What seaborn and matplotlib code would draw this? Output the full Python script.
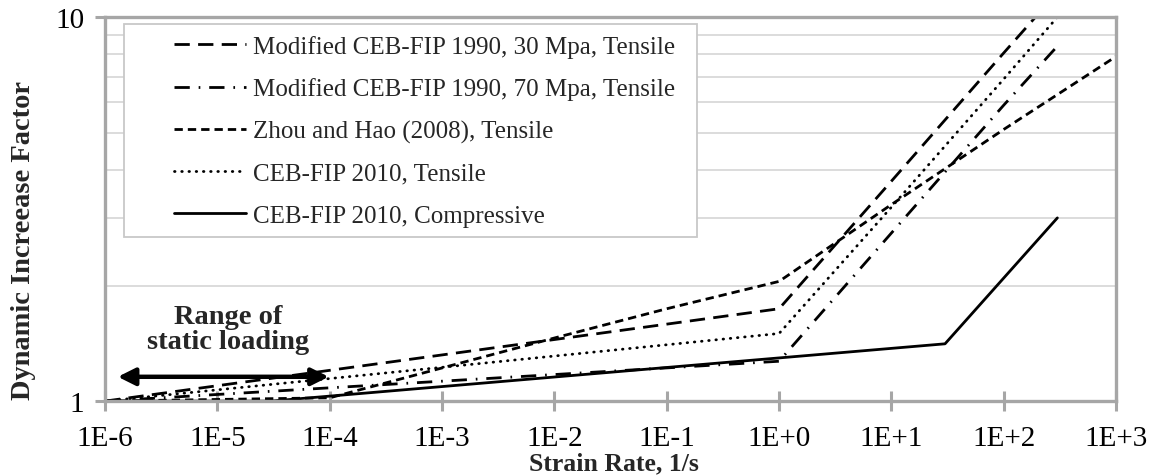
import numpy as np
import pandas as pd
import matplotlib
matplotlib.use("Agg")
import matplotlib.pyplot as plt
import seaborn as sns
from matplotlib.ticker import FixedLocator, NullFormatter, LogLocator
from matplotlib.patches import Rectangle

# ---------------- data ----------------
x_mod30 = [1e-6, 1, 10, 100, 300]
y_mod30 = [1.0, 1.74, 3.74, 8.07, 11.6]

x_mod70 = [1e-6, 1, 10, 100, 300]
y_mod70 = [1.0, 1.27, 2.74, 5.9, 8.4]

x_zhou = [1e-6, 1e-4, 1e-3, 1e-2, 1e-1, 1, 10, 100, 1000]
y_zhou = [1.0, 1.02, 1.22, 1.46, 1.74, 2.05, 3.25, 5.1, 7.9]

x_fib_t = [1e-6, 1, 10, 100, 300]
y_fib_t = [1.0, 1.5, 3.2, 6.9, 10.0]

x_fib_c = [1e-6, 3e-5, 30, 300]
y_fib_c = [1.0, 1.0, 1.41, 3.0]

labels = [
    "Modified CEB-FIP 1990, 30 Mpa, Tensile",
    "Modified CEB-FIP 1990, 70 Mpa, Tensile",
    "Zhou and Hao (2008), Tensile",
    "CEB-FIP 2010, Tensile",
    "CEB-FIP 2010, Compressive",
]
xtick_vals = [1e-6, 1e-5, 1e-4, 1e-3, 1e-2, 1e-1, 1e0, 1e1, 1e2, 1e3]
xtick_labels = ["1E-6", "1E-5", "1E-4", "1E-3", "1E-2", "1E-1",
                "1E+0", "1E+1", "1E+2", "1E+3"]
ytick_vals = [1, 10]
ytick_labels = ["1", "10"]

arrow_x = (1.3e-6, 9.8e-5)
arrow_y = 1.157
note_x, note_y = 1.25e-5, 1.54

# ---------------- style ----------------
sns.set_theme(style="white")
plt.rcParams["font.family"] = ["Liberation Serif", "DejaVu Serif"]

fig, ax = plt.subplots(figsize=(11.53, 4.77), dpi=100)
fig.subplots_adjust(left=0.0911, right=0.968, bottom=0.157, top=0.962)
ax.set_xscale("log")
ax.set_yscale("log")

series = [
    (x_mod30, y_mod30, (0, (5.5, 3)), "butt"),
    (x_mod70, y_mod70, (0, (5.5, 3.2, 0.6, 3.2)), "butt"),
    (x_zhou, y_zhou, (0, (3, 1.8)), "butt"),
    (x_fib_t, y_fib_t, (0, (0.2, 2.4)), "round"),
    (x_fib_c, y_fib_c, "-", "butt"),
]
for (xs, ys, ls, cap), lab in zip(series, labels):
    df = pd.DataFrame({"x": xs, "y": ys})
    sns.lineplot(data=df, x="x", y="y", ax=ax, color="black", lw=2.0,
                 linestyle=ls, dash_capstyle=cap, label=lab,
                 estimator=None, sort=False)

ax.set_xlim(1e-6, 1e3)
ax.set_ylim(1, 10)

# ticks
ax.xaxis.set_major_locator(FixedLocator(xtick_vals))
ax.set_xticklabels(xtick_labels)
ax.xaxis.set_minor_locator(FixedLocator([]))
ax.yaxis.set_major_locator(FixedLocator(ytick_vals))
ax.set_yticklabels(ytick_labels)
ax.yaxis.set_minor_locator(LogLocator(base=10, subs=np.arange(2, 10)))
ax.yaxis.set_minor_formatter(NullFormatter())

grey = "#a6a6a6"
ax.tick_params(axis="x", which="major", direction="inout", length=14, width=2.2,
               color=grey, labelsize=21, pad=10, labelcolor="black")
ax.tick_params(axis="y", which="major", direction="out", length=7, width=2.2,
               color=grey, labelsize=21, pad=8, labelcolor="black")
ax.tick_params(axis="y", which="minor", length=0)
ax.tick_params(axis="both", bottom=True, left=True)
ax.yaxis.grid(True, which="minor", color="#d9d9d9", lw=1.3)
ax.yaxis.grid(False, which="major")
ax.xaxis.grid(False)

for s in ax.spines.values():
    s.set_color(grey)
    s.set_linewidth(2.4)
    s.set_visible(True)

ax.set_xlabel("Strain Rate, 1/s", fontsize=18.5, fontweight="bold", va="bottom")
ax.xaxis.set_label_coords(0.5035, -0.1915)
ax.set_ylabel("Dynamic Increease Factor", fontsize=20.5, fontweight="bold")
ax.yaxis.set_label_coords(-0.068, 0.42)

# annotation: static loading range
ax.annotate("", xy=(arrow_x[0], arrow_y), xytext=(arrow_x[1], arrow_y),
            arrowprops=dict(arrowstyle="<|-|>", color="black", lw=3.2,
                            mutation_scale=26, shrinkA=0, shrinkB=0))
ax.text(note_x, note_y, "Range of\nstatic loading", ha="center", va="center",
        fontsize=20.5, fontweight="bold", linespacing=1.0)

# legend frame drawn as a box, legend entries inside it
ax.add_patch(Rectangle((0.0188, 0.427), 0.5668, 0.555, transform=ax.transAxes,
                       facecolor="white", edgecolor="#c8c8c8", lw=1.3, zorder=3))
leg = ax.legend(loc="upper left", bbox_to_anchor=(0.068, 0.954), frameon=False,
                fontsize=18, handlelength=2.9, labelspacing=0.78, borderpad=0,
                handletextpad=0.28, borderaxespad=0)
leg.set_zorder(6)

fig.savefig("out.png", dpi=100)
